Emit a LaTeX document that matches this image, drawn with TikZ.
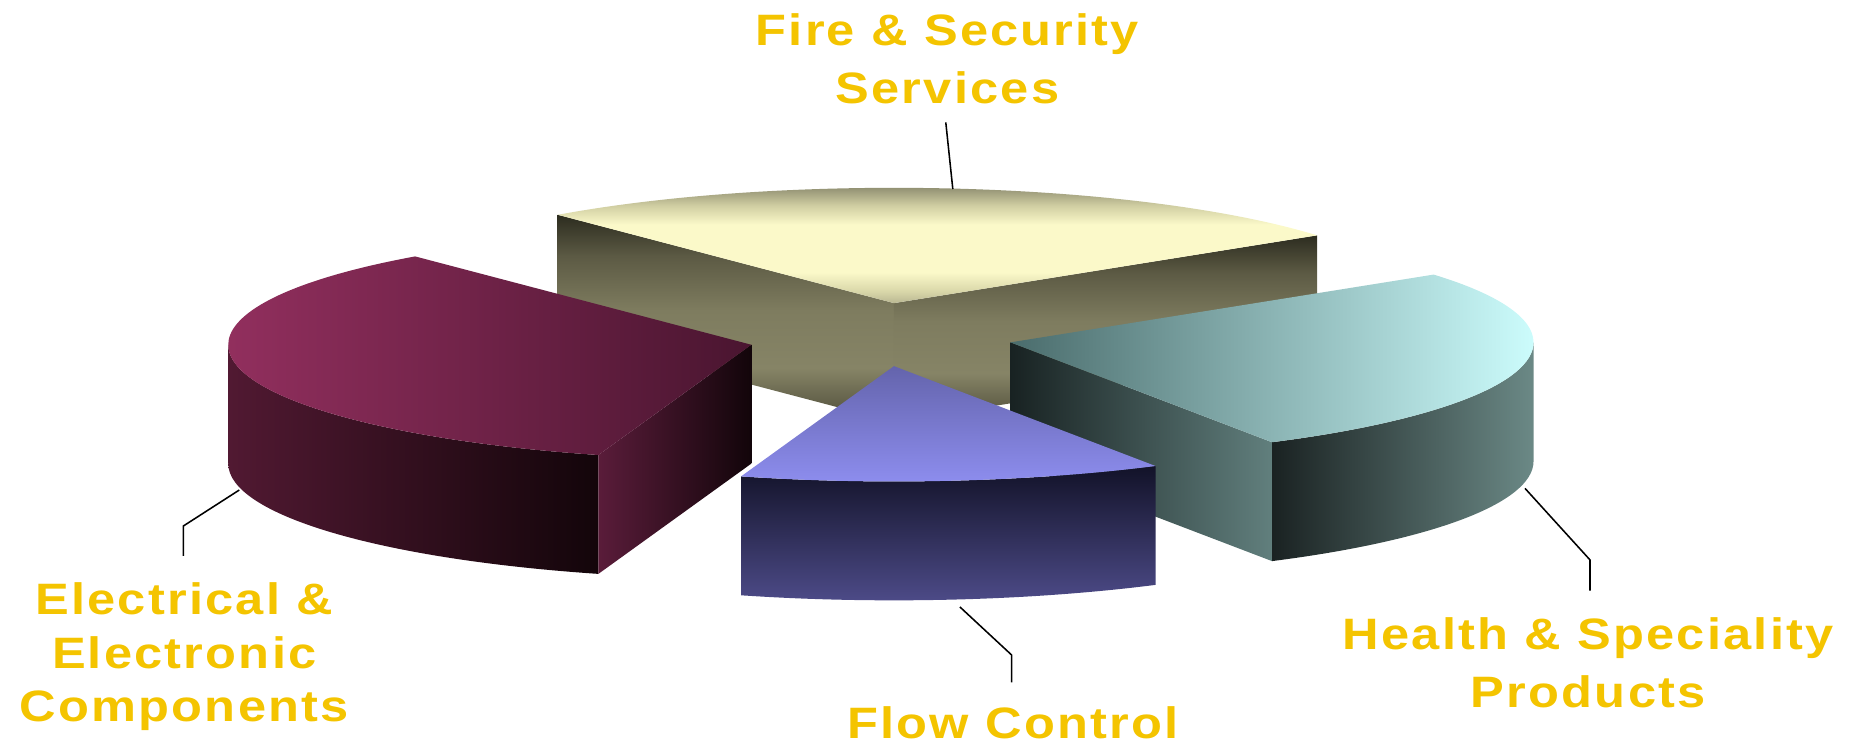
\documentclass[tikz,border=0pt]{standalone}
\usepackage{fontspec}
\newfontfamily\labfont[LetterSpace=5,FakeStretch=1.15]{Liberation Sans}
\usetikzlibrary{calc}
\definecolor{labelgold}{RGB}{244,196,0}
% fire & security colours
\definecolor{ft1}{HTML}{B9B792}
\definecolor{ft2}{HTML}{D9D7A9}
\definecolor{ft3}{HTML}{FBF9C9}
\definecolor{ft4}{HTML}{D0CEA2}
\definecolor{ft5}{HTML}{86856A}
\definecolor{fs1}{HTML}{2C2C1F}
\definecolor{fs2}{HTML}{5C5A44}
\definecolor{fs3}{HTML}{7E7C5F}
\definecolor{fs4}{HTML}{868466}
\definecolor{fs5}{HTML}{4E4C39}
% electrical colours
\definecolor{rtopL}{HTML}{9A3263}
\definecolor{rtopM}{HTML}{852A57}
\definecolor{rtopR}{HTML}{4A1530}
\definecolor{rsideL}{HTML}{511932}
\definecolor{rsideR}{HTML}{13050A}
\definecolor{rfaceL}{HTML}{5A1C3A}
\definecolor{rfaceR}{HTML}{12050A}
% health colours
\definecolor{ttopL}{HTML}{4A6C6C}
\definecolor{ttopM}{HTML}{97C2C2}
\definecolor{ttopR}{HTML}{CCFCFC}
\definecolor{tfaceL}{HTML}{182222}
\definecolor{tfaceR}{HTML}{617F7D}
\definecolor{tsideL}{HTML}{1A2222}
\definecolor{tsideR}{HTML}{6B8986}
% flow colours
\definecolor{btopT}{HTML}{6464AC}
\definecolor{btopB}{HTML}{8E8EF0}
\definecolor{bsideT}{HTML}{121228}
\definecolor{bsideM}{HTML}{2E2D58}
\definecolor{bsideB}{HTML}{4E4C8A}
\pgfdeclareverticalshading{firetop}{100bp}{color(0bp)=(ft1); color(25bp)=(ft1); color(30bp)=(ft2); color(38bp)=(ft3); color(58bp)=(ft3); color(66bp)=(ft4); color(75bp)=(ft5); color(100bp)=(ft5)}
\pgfdeclareverticalshading{fireside}{100bp}{color(0bp)=(fs5); color(25bp)=(fs5); color(38bp)=(fs4); color(52bp)=(fs3); color(65bp)=(fs2); color(75bp)=(fs1); color(100bp)=(fs1)}
\begin{document}
\begin{tikzpicture}[x=1pt,y=1pt,
  lab/.style={text=labelgold, align=center, inner sep=0pt, anchor=north},
  leader/.style={draw=black, line width=1.3pt},
  elarc/.style={x radius=440, y radius=97}
]
\useasboundingbox (0,0) rectangle (1568,629);
\coordinate (ftip) at (752,374);
\coordinate (rtip) at (632,339);
\coordinate (btip) at (752,321);
\coordinate (ttip) at (850,341);

% ---------- Fire & Security (back) ----------
\path (ftip) ++(130:440 and 97) coordinate (fL);
\path (ftip) ++(36:440 and 97) coordinate (fR);
\shade[shading=fireside] (ftip) -- (fL) -- ([yshift=-100pt]fL) -- ([yshift=-100pt]ftip) -- cycle;
\shade[shading=fireside] (ftip) -- (fR) -- ([yshift=-100pt]fR) -- ([yshift=-100pt]ftip) -- cycle;
\shade[shading=firetop] (ftip) -- (fR) arc[start angle=36, end angle=130, elarc] -- cycle;

% ---------- Electrical & Electronic ----------
\path (rtip) ++(130:440 and 97) coordinate (rB);
\path (rtip) ++(180:440 and 97) coordinate (rW);
\path (rtip) ++(253:440 and 97) coordinate (rF);
\shade[left color=rsideL, right color=rsideR] (rW) arc[start angle=180, end angle=253, elarc] -- ([yshift=-100pt]rF) arc[start angle=253, end angle=180, elarc] -- cycle;
\shade[left color=rfaceL, right color=rfaceR] (rF) -- (rtip) -- ([yshift=-100pt]rtip) -- ([yshift=-100pt]rF) -- cycle;
\shade[left color=rtopL, middle color=rtopM, right color=rtopR] (rtip) -- (rB) arc[start angle=130, end angle=253, elarc] -- cycle;

% ---------- Health & Speciality ----------
\path (ttip) ++(300:440 and 97) coordinate (tF);
\path (ttip) ++(0:440 and 97) coordinate (tE);
\shade[left color=tfaceL, right color=tfaceR] (ttip) -- (tF) -- ([yshift=-100pt]tF) -- ([yshift=-100pt]ttip) -- cycle;
\shade[left color=tsideL, right color=tsideR] (tF) arc[start angle=300, end angle=360, elarc] -- ([yshift=-100pt]tE) arc[start angle=360, end angle=300, elarc] -- cycle;
\shade[left color=ttopL, middle color=ttopM, right color=ttopR] (ttip) -- (tF) arc[start angle=300, end angle=396, elarc] -- cycle;

% ---------- Flow Control (front) ----------
\path (btip) ++(253:440 and 97) coordinate (bL);
\path (btip) ++(300:440 and 97) coordinate (bR);
\shade[top color=bsideT, middle color=bsideM, bottom color=bsideB] (bL) arc[start angle=253, end angle=300, elarc] -- ([yshift=-100pt]bR) arc[start angle=300, end angle=253, elarc] -- cycle;
\shade[top color=btopT, bottom color=btopB] (btip) -- (bL) arc[start angle=253, end angle=300, elarc] -- cycle;

% ---------- labels ----------
\node[lab, font={\labfont\bfseries\fontsize{37}{49}\selectfont}] (labfire) at (797,618) {Fire \& Security\\Services};
\node[lab, font={\labfont\bfseries\fontsize{37}{45}\selectfont}] (labelec) at (155,139) {Electrical \&\\Electronic\\Components};
\node[lab, font={\labfont\bfseries\fontsize{37}{49}\selectfont}] (labflow) at (852,35) {Flow Control};
\node[lab, font={\labfont\bfseries\fontsize{37}{49}\selectfont}] (labhealth) at (1336,110) {Health \& Speciality\\Products};

% ---------- leader lines ----------
\coordinate (fireA) at (801.5,470);
\coordinate (fireB) at (795.6,526);
\coordinate (elecA) at (201.3,216.8);
\coordinate (elecB) at (154.2,186.5);
\coordinate (elecC) at (154.2,161.3);
\coordinate (flowA) at (807.5,118.4);
\coordinate (flowB) at (851,78);
\coordinate (flowC) at (851,55);
\coordinate (healA) at (1282.8,218.2);
\coordinate (healB) at (1337.5,158);
\coordinate (healC) at (1337.5,132.1);
\draw[leader] (fireA) -- (fireB);
\draw[leader] (elecA) -- (elecB) -- (elecC);
\draw[leader] (flowA) -- (flowB) -- (flowC);
\draw[leader] (healA) -- (healB) -- (healC);
\end{tikzpicture}
\end{document}
